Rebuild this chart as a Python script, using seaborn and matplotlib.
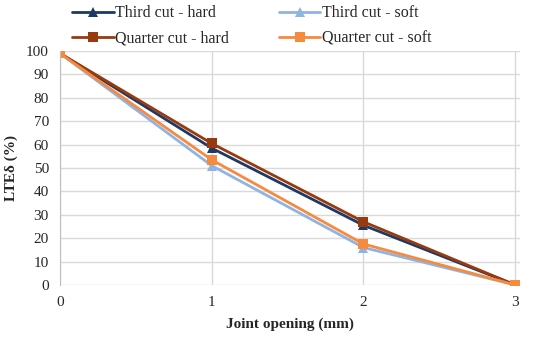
import pandas as pd
import seaborn as sns
import matplotlib.pyplot as plt

# Data
joint_opening = [0, 1, 2, 3]
third_hard = [99, 58.5, 25.5, 0]
third_soft = [99, 51, 16, 0]
quarter_hard = [99, 60.5, 27, 0]
quarter_soft = [99, 53.5, 17.5, 0]

series = ['Third cut - hard', 'Third cut - soft', 'Quarter cut - hard', 'Quarter cut - soft']
values = [third_hard, third_soft, quarter_hard, quarter_soft]

plot_data = pd.concat(
    [pd.DataFrame({'Joint opening': joint_opening, 'LTE': v, 'Series': s}) for s, v in zip(series, values)],
    ignore_index=True,
)

sns.set_style('white')
plt.rcParams['font.family'] = ['Liberation Serif', 'DejaVu Serif']

colors = {'Third cut - hard': '#1f3864', 'Third cut - soft': '#8fb4e3',
          'Quarter cut - hard': '#983a10', 'Quarter cut - soft': '#f68a3e'}
markers = {'Third cut - hard': '^', 'Third cut - soft': '^',
           'Quarter cut - hard': 's', 'Quarter cut - soft': 's'}

fig = plt.figure(figsize=(5.5, 3.38), dpi=100)
ax = fig.add_axes([0.109, 0.157, 0.836, 0.692])

sns.lineplot(data=plot_data, x='Joint opening', y='LTE', hue='Series', style='Series',
             palette=colors, markers=markers, dashes=False, markersize=7,
             markeredgewidth=0, linewidth=2, ax=ax)

ax.set_xlim(0, 3.03)
ax.set_ylim(0, 100)
ax.set_xticks(joint_opening)
ax.set_yticks(range(0, 101, 10))
ax.tick_params(labelsize=11, length=0, pad=8)
ax.grid(True, color='#d9d9d9', linewidth=1)
ax.set_axisbelow(True)
for side in ['top', 'right', 'bottom']:
    ax.spines[side].set_visible(False)
ax.spines['left'].set_color('#bfbfbf')

ax.set_xlabel('Joint opening (mm)', fontsize=11, fontweight='bold', labelpad=6)
ax.set_ylabel('LTEδ (%)', fontsize=11, fontweight='bold', labelpad=6)

# legend filled row by row, like the reference
handles, labels = ax.get_legend_handles_labels()
order = [0, 2, 1, 3]
ax.legend([handles[i] for i in order], [labels[i] for i in order],
          loc='lower left', bbox_to_anchor=(0.02, 1.007), ncol=2, frameon=False, fontsize=11.5,
          handlelength=2.6, columnspacing=3.1, labelspacing=0.55, handletextpad=0.1,
          borderaxespad=0.0, borderpad=0.2)

plt.savefig('out.png', dpi=100)
